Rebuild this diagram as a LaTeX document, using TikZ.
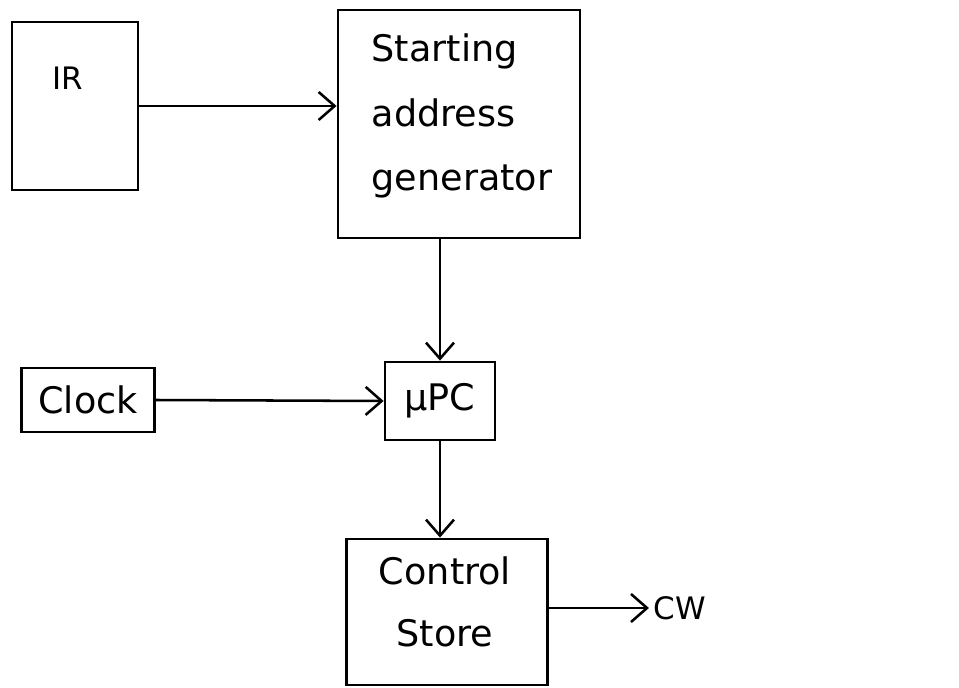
\documentclass[tikz,border=0pt]{standalone}
\usepackage{fontspec}
\setmainfont{DejaVu Sans}
\usepackage{tikz}
\usetikzlibrary{arrows.meta,positioning}

\begin{document}
\begin{tikzpicture}[
    x=0.025cm, y=-0.025cm,
    blk/.style={draw, line width=2pt},
    txt/.style={font=\fontsize{26}{46}\selectfont, align=left},
    arrow/.style={-{Straight Barb[length=4mm,width=7mm]}, line width=1.8pt}
]
\useasboundingbox (0,0) rectangle (959,688);

\node[blk, minimum width=3.15cm, minimum height=4.2cm] (ir) at (75,106) {};
\node[txt, font=\fontsize{22}{26}\selectfont] (irtxt) at (68,78) {IR};

\node[blk, minimum width=6.05cm, minimum height=5.7cm] (sag) at (459,124) {};
\node[txt] (sagtxt) at (462,116) {Starting\\address\\generator};

\node[blk, txt, minimum width=3.325cm, minimum height=1.6cm, inner sep=0pt] (clock) at (88,400) {Clock};
\node[blk, txt, minimum width=2.75cm, minimum height=1.95cm, inner sep=0pt] (upc) at (440,401) {μPC};

\node[blk, minimum width=5.025cm, minimum height=3.65cm] (cs) at (447,612) {};
\node[txt, align=center, font=\fontsize{26}{44}\selectfont] (cstxt) at (445,602) {Control\\Store};

\node[txt, font=\fontsize{22}{26}\selectfont] (cw) at (680,608) {CW};

\draw[arrow] (ir.east) -- (ir.east -| sag.west);
\draw[arrow] (upc.north |- sag.south) -- (upc.north);
\draw[arrow] (clock.east) -- (upc.west);
\draw[arrow] (upc.south) -- (upc.south |- cs.north);
\draw[arrow] (cs.east |- cw.west) -- (cw.west);

\end{tikzpicture}
\end{document}
